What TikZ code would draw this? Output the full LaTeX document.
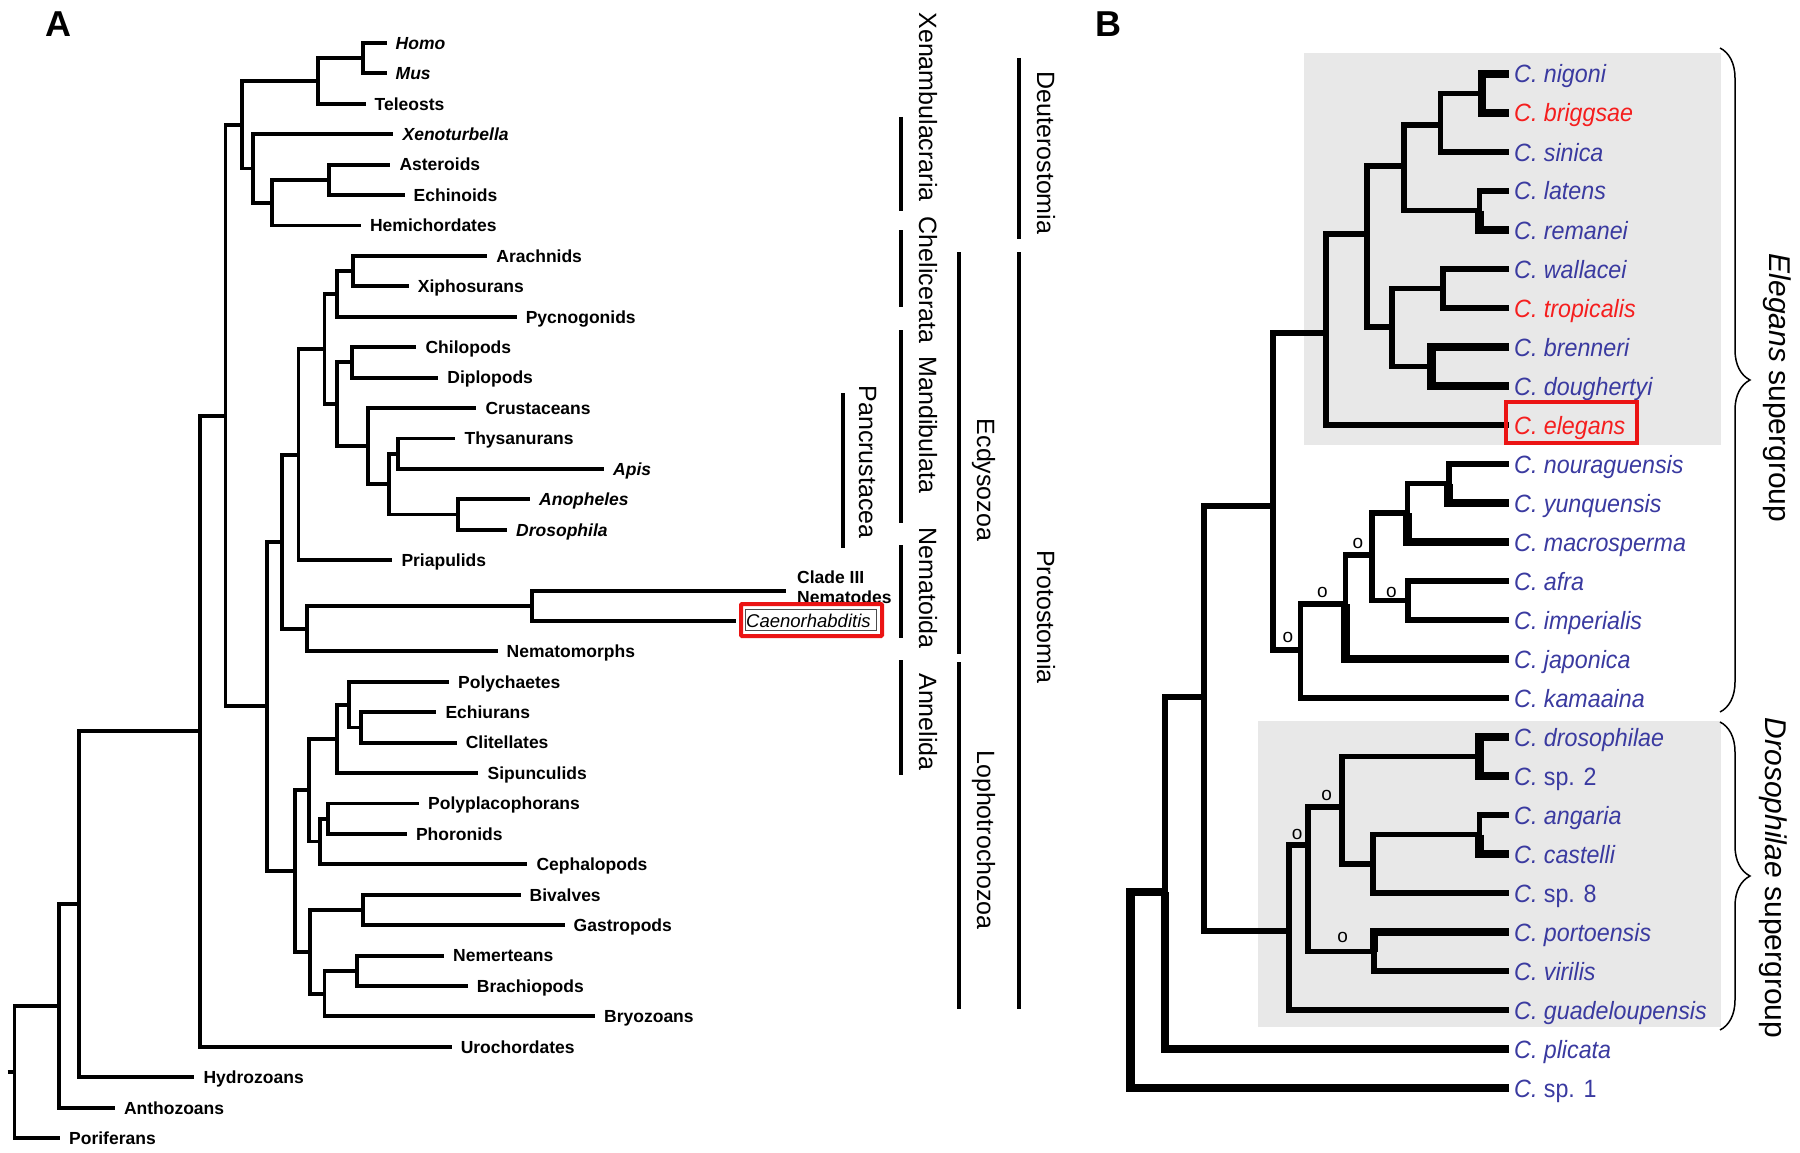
\documentclass[tikz,border=0pt]{standalone}
\usepackage{fontspec}
\setmainfont{Liberation Sans}
\usepackage{graphicx}
\usetikzlibrary{decorations.pathreplacing}
\definecolor{cblue}{RGB}{58,58,160}
\definecolor{cred}{RGB}{245,30,30}
\definecolor{boxred}{RGB}{235,20,20}
\definecolor{boxgray}{RGB}{232,232,232}
\newcommand\aleaf[4]{\coordinate (#1) at (#2,{43+30.42*#3}); \node[labA] (#1t) at ([xshift=9pt,yshift=-6.3pt]#1) {#4};}
\newcommand\bleaf[4]{\coordinate (#1) at (1509,{74+39*#2}); \node[labB,text=#3] (#1t) at ([xshift=5pt,yshift=-9pt]#1) {\scalebox{0.93}[1]{#4}};}
\begin{document}
\begin{tikzpicture}[x=1pt,y=-1pt,
  tA/.style={line width=3.9pt, line join=miter},
  tB/.style={line width=5.8pt, line join=miter},
  tBk/.style={line width=8.5pt, line join=miter},
  bar/.style={line width=3.4pt},
  labA/.style={font=\fontsize{17.5}{20}\selectfont\bfseries, anchor=base west, inner sep=0pt},
  grp/.style={font=\fontsize{25}{28}\selectfont, rotate=-90, anchor=base, inner sep=0pt},
  labB/.style={font=\fontsize{25}{28}\selectfont\itshape, anchor=base west, inner sep=0pt},
  oo/.style={font=\fontsize{19}{20}\selectfont, inner sep=0pt},
  panel/.style={font=\fontsize{36}{40}\selectfont\bfseries, anchor=base west, inner sep=0pt}]
\fill[white] (0,0) rectangle (1800,1153);
\useasboundingbox (0,0) rectangle (1800,1153);

% ---------------- Panel A ----------------
\node[panel] (pA) at (45,37) {A};

\aleaf{homo}{386.5}{0}{\textit{Homo}}
\aleaf{mus}{386.5}{1}{\textit{Mus}}
\aleaf{tele}{365.5}{2}{Teleosts}
\aleaf{xeno}{393.4}{3}{\textit{Xenoturbella}}
\aleaf{aste}{390.3}{4}{Asteroids}
\aleaf{echi}{404.5}{5}{Echinoids}
\aleaf{hemi}{360.9}{6}{Hemichordates}
\aleaf{arac}{487.2}{7}{Arachnids}
\aleaf{xiph}{408.7}{8}{Xiphosurans}
\aleaf{pycn}{516.6}{9}{Pycnogonids}
\aleaf{chil}{416.4}{10}{Chilopods}
\aleaf{dipl}{438.2}{11}{Diplopods}
\aleaf{crus}{476.4}{12}{Crustaceans}
\aleaf{thys}{455.4}{13}{Thysanurans}
\aleaf{apis}{604}{14}{\textit{Apis}}
\aleaf{anop}{530}{15}{\textit{Anopheles}}
\aleaf{dros}{507}{16}{\textit{Drosophila}}
\aleaf{pria}{392.3}{17}{Priapulids}
\coordinate (clade) at (786,{43+30.42*18});
\coordinate (caen) at (736,{43+30.42*19});
\aleaf{nmor}{497.5}{20}{Nematomorphs}
\aleaf{poly}{449}{21}{Polychaetes}
\aleaf{echu}{436.3}{22}{Echiurans}
\aleaf{clit}{456.6}{23}{Clitellates}
\aleaf{sipu}{478.4}{24}{Sipunculids}
\aleaf{polp}{419}{25}{Polyplacophorans}
\aleaf{phor}{406.8}{26}{Phoronids}
\aleaf{ceph}{527.4}{27}{Cephalopods}
\aleaf{biva}{520.5}{28}{Bivalves}
\aleaf{gast}{564.5}{29}{Gastropods}
\aleaf{neme}{444}{30}{Nemerteans}
\aleaf{brac}{467.7}{31}{Brachiopods}
\aleaf{bryo}{595}{32}{Bryozoans}
\aleaf{uroc}{451.6}{33}{Urochordates}
\aleaf{hydr}{194.4}{34}{Hydrozoans}
\aleaf{anth}{114.8}{35}{Anthozoans}
\aleaf{pori}{60}{36}{Poriferans}

\node[labA] (cladeA) at ([xshift=11pt,yshift=7.3pt]clade) {Clade III};
\node[labA] (cladeB) at ([xshift=11pt,yshift=-12.7pt]clade) {Nematodes};
\node[labA, font=\fontsize{18.5}{20}\selectfont\itshape] (caent) at ([xshift=10pt,yshift=-6.5pt]caen) {Caenorhabditis};
\draw[black!70, line width=0.8pt] (745.5,609) rectangle (876,630);
\draw[boxred, line width=4pt, rounded corners=1pt] (741,604) rectangle (882,636);

% internal nodes A
\coordinate (HM) at (362.8,58.2);
\coordinate (HMT) at (317.6,81);
\coordinate (AE) at (329,179.9);
\coordinate (AEH) at (271.7,202.7);
\coordinate (XAEH) at (253.3,168.5);
\coordinate (Deut) at (241.9,124.8);
\coordinate (AX) at (353.2,271.2);
\coordinate (Chel) at (336.8,294);
\coordinate (CD) at (352,362.4);
\coordinate (TA) at (398,453.7);
\coordinate (AD) at (458,514.5);
\coordinate (Ins) at (389.2,484.1);
\coordinate (Panc) at (368.1,446);
\coordinate (Mand) at (336.8,404.2);
\coordinate (Arth) at (324.5,349.1);
\coordinate (ArPr) at (298.5,454.6);
\coordinate (Nem) at (532,605.8);
\coordinate (NeNm) at (307.3,628.6);
\coordinate (Ecdy) at (282,541.6);
\coordinate (EC) at (361,727.5);
\coordinate (PEC) at (349.4,704.6);
\coordinate (Ann) at (336.8,738.9);
\coordinate (PP) at (328.4,818.7);
\coordinate (PPC) at (319.6,841.5);
\coordinate (AnnM) at (309.2,790.2);
\coordinate (BG) at (362.8,910);
\coordinate (NB) at (357,970.8);
\coordinate (NBB) at (324.5,993.6);
\coordinate (BGNB) at (310,951.8);
\coordinate (Loph) at (295.4,871);
\coordinate (Prot) at (266.7,706.3);
\coordinate (Bil) at (225.5,415.6);
\coordinate (BilU) at (199.8,731.2);
\coordinate (BH) at (79.2,904.3);
\coordinate (BHA) at (59.3,1006);
\coordinate (aroot) at (14.5,1072);
\coordinate (astub) at (7.7,1072);

\foreach \p/\c in {HM/homo,HM/mus,HMT/HM,HMT/tele,Deut/HMT,Deut/XAEH,XAEH/xeno,XAEH/AEH,
  AEH/AE,AEH/hemi,AE/aste,AE/echi,Bil/Deut,Bil/Prot,Prot/Ecdy,Prot/Loph,Ecdy/ArPr,Ecdy/NeNm,
  ArPr/Arth,ArPr/pria,Arth/Chel,Arth/Mand,Chel/AX,Chel/pycn,AX/arac,AX/xiph,Mand/CD,Mand/Panc,
  CD/chil,CD/dipl,Panc/crus,Panc/Ins,Ins/TA,Ins/AD,TA/thys,TA/apis,AD/anop,AD/dros,
  NeNm/Nem,NeNm/nmor,Nem/clade,Nem/caen,Loph/AnnM,Loph/BGNB,AnnM/Ann,AnnM/PPC,Ann/PEC,Ann/sipu,
  PEC/poly,PEC/EC,EC/echu,EC/clit,PPC/PP,PPC/ceph,PP/polp,PP/phor,BGNB/BG,BGNB/NBB,BG/biva,BG/gast,
  NBB/NB,NBB/bryo,NB/neme,NB/brac,BilU/Bil,BilU/uroc,BH/BilU,BH/hydr,BHA/BH,BHA/anth,aroot/BHA,aroot/pori}
  \draw[tA] (\p) |- (\c);
\draw[tA] (astub) -- (aroot);

% group bars A
\draw[bar] (901,117) -- (901,211);
\draw[bar] (901,230) -- (901,307);
\draw[bar] (901,330) -- (901,523);
\draw[bar] (901,545) -- (901,638);
\draw[bar] (901,660) -- (901,775);
\draw[bar] (843,393) -- (843,548);
\draw[bar] (959,252) -- (959,654);
\draw[bar] (959,662) -- (959,1009);
\draw[bar] (1019,58) -- (1019,239);
\draw[bar] (1019,252) -- (1019,1009);
\node[grp] (gXen) at (919,107) {Xenambulacraria};
\node[grp] (gChe) at (919,280) {Chelicerata};
\node[grp] (gMan) at (919,425) {Mandibulata};
\node[grp] (gNem) at (919,588) {Nematoida};
\node[grp] (gAnn) at (919,722) {Annelida};
\node[grp] (gPan) at (859,462) {Pancrustacea};
\node[grp] (gEcd) at (977,480) {Ecdysozoa};
\node[grp] (gLop) at (977,840) {Lophotrochozoa};
\node[grp] (gDeu) at (1037,153) {Deuterostomia};
\node[grp] (gPro) at (1037,617) {Protostomia};

% ---------------- Panel B ----------------
\node[panel] (pB) at (1095,37) {B};
\fill[boxgray] (1303.6,53) rectangle (1720.6,445);
\fill[boxgray] (1258.2,721) rectangle (1720.6,1027);

\bleaf{nig}{0}{cblue}{C. nigoni}
\bleaf{brig}{1}{cred}{C. briggsae}
\bleaf{sin}{2}{cblue}{C. sinica}
\bleaf{lat}{3}{cblue}{C. latens}
\bleaf{rem}{4}{cblue}{C. remanei}
\bleaf{wal}{5}{cblue}{C. wallacei}
\bleaf{trop}{6}{cred}{C. tropicalis}
\bleaf{bren}{7}{cblue}{C. brenneri}
\bleaf{dough}{8}{cblue}{C. doughertyi}
\bleaf{eleg}{9}{cred}{C. elegans}
\bleaf{nour}{10}{cblue}{C. nouraguensis}
\bleaf{yunq}{11}{cblue}{C. yunquensis}
\bleaf{macr}{12}{cblue}{C. macrosperma}
\bleaf{afra}{13}{cblue}{C. afra}
\bleaf{impe}{14}{cblue}{C. imperialis}
\bleaf{japo}{15}{cblue}{C. japonica}
\bleaf{kama}{16}{cblue}{C. kamaaina}
\bleaf{drso}{17}{cblue}{C. drosophilae}
\bleaf{sptw}{18}{cblue}{C. \textup{sp. 2}}
\bleaf{anga}{19}{cblue}{C. angaria}
\bleaf{cast}{20}{cblue}{C. castelli}
\bleaf{spei}{21}{cblue}{C. \textup{sp. 8}}
\bleaf{port}{22}{cblue}{C. portoensis}
\bleaf{viri}{23}{cblue}{C. virilis}
\bleaf{guad}{24}{cblue}{C. guadeloupensis}
\bleaf{plic}{25}{cblue}{C. plicata}
\bleaf{spon}{26}{cblue}{C. \textup{sp. 1}}

\coordinate (bNB) at (1482,93.5);
\coordinate (bNBS) at (1440.5,125);
\coordinate (bLR) at (1479.5,210.5);
\coordinate (bU5) at (1403.7,166);
\coordinate (bWT) at (1442.8,288.5);
\coordinate (bBD) at (1431.3,366.5);
\coordinate (bL4) at (1392.3,327);
\coordinate (bE9) at (1367,234);
\coordinate (bE10) at (1325.7,333);
\coordinate (bNY) at (1448.7,483.5);
\coordinate (bNYM) at (1407.4,513);
\coordinate (bAI) at (1408.3,600.5);
\coordinate (bNYAI) at (1371.6,555);
\coordinate (bJ) at (1345.4,604);
\coordinate (bK) at (1300.4,650);
\coordinate (bEK) at (1273,506);
\coordinate (bDS) at (1479.5,756.5);
\coordinate (bAC) at (1479.5,834.5);
\coordinate (bAC8) at (1373,864);
\coordinate (bDSA) at (1341.7,807);
\coordinate (bPV) at (1374,951.5);
\coordinate (bDPV) at (1308.2,845);
\coordinate (bG) at (1289,931);
\coordinate (bEKG) at (1204,697);
\coordinate (bP) at (1165,892);
\coordinate (bRoot) at (1130.5,990);

\foreach \p/\c in {bNBS/bNB,bNBS/sin,bLR/lat,bU5/bNBS,bU5/bLR,bWT/wal,bWT/trop,bL4/bWT,bL4/bBD,
  bE9/bU5,bE9/bL4,bE10/bE9,bE10/eleg,bNY/nour,bNYM/bNY,bAI/afra,bAI/impe,bNYAI/bNYM,bNYAI/bAI,
  bJ/bNYAI,bK/bJ,bK/kama,bEK/bE10,bEK/bK,bAC/anga,bAC8/bAC,bAC8/spei,bDSA/bDS,bDSA/bAC8,
  bPV/viri,bDPV/bDSA,bDPV/bPV,bG/bDPV,bG/guad,bEKG/bEK,bEKG/bG,bP/bEKG}
  \draw[tB] (\p) |- (\c);
\foreach \p/\c in {bNB/nig,bNB/brig,bLR/rem,bBD/bren,bBD/dough,bNY/yunq,bNYM/macr,bJ/japo,
  bDS/drso,bDS/sptw,bAC/cast,bPV/port,bP/plic,bRoot/spon,bRoot/bP}
  \draw[tBk] (\p) |- (\c);

\draw[boxred, line width=4pt] (1506,402) rectangle (1637,443);

\node[oo] (o1) at (1288,637) {o};
\node[oo] (o2) at (1322.5,592) {o};
\node[oo] (o3) at (1357.8,543) {o};
\node[oo] (o4) at (1391.3,592) {o};
\node[oo] (o5) at (1297.2,834) {o};
\node[oo] (o6) at (1326.6,795) {o};
\node[oo] (o7) at (1342.7,937) {o};

\draw[decorate, decoration={brace, amplitude=30pt}, line width=1.5pt] (1720,48) -- (1720,712);
\draw[decorate, decoration={brace, amplitude=30pt}, line width=1.5pt] (1720,722) -- (1720,1030);
\node[grp, font=\fontsize{30}{34}\selectfont] (gEle) at (1769,388) {\textit{Elegans} supergroup};
\node[grp, font=\fontsize{30}{34}\selectfont] (gDro) at (1765,878) {\textit{Drosophilae} supergroup};
\end{tikzpicture}
\end{document}
